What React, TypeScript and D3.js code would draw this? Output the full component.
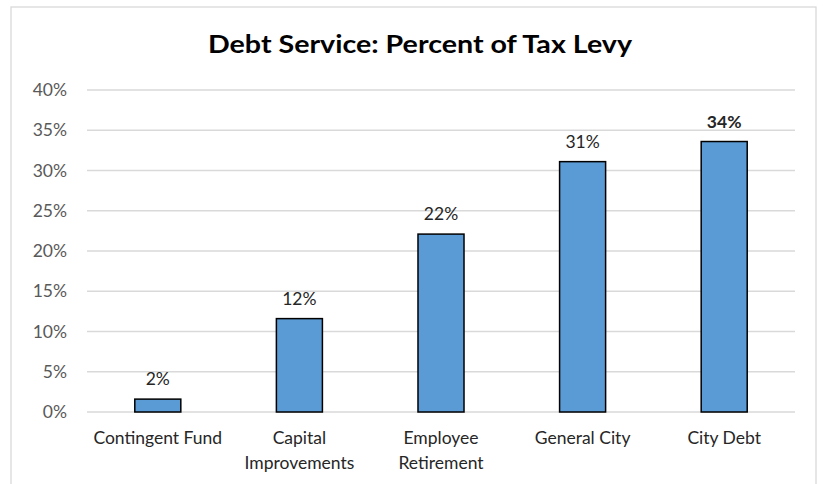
import React from "react";
import * as d3 from "d3";

const categories = ["Contingent Fund", "Capital Improvements", "Employee Retirement", "General City", "City Debt"];
const categoryLines = [["Contingent Fund"], ["Capital", "Improvements"], ["Employee", "Retirement"], ["General City"], ["City Debt"]];
const values = [1.6, 11.6, 22.1, 31.1, 33.6];
const yTicks = [0, 5, 10, 15, 20, 25, 30, 35, 40];
const boldLabelIndex = 4;

export default function App() {
  const W = 823, H = 484;
  const left = 87, right = 795, top = 90, bottom = 412;
  const x = d3.scaleBand<string>().domain(categories).range([left, right]).paddingInner(0.675).paddingOuter(0.3375);
  const y = d3.scaleLinear().domain([0, 40]).range([bottom, top]);
  const font = "Lato, Open Sans, sans-serif";
  const fs = 17.5;
  return (
    <svg width={W} height={H} style={{ position: "absolute", left: 0, top: 0, background: "#fff" }}>
      <rect x={11} y={7} width={805} height={490} fill="#fff" stroke="#d9d9d9" strokeWidth={1.3} />
      <text x={420} y={53} textAnchor="middle" fontFamily={font} fontWeight="bold" fontSize={24} fill="#000" textLength={424} lengthAdjust="spacingAndGlyphs">
        Debt Service: Percent of Tax Levy
      </text>
      {yTicks.map((t) => (
        <g key={t}>
          <line x1={left} x2={right} y1={y(t)} y2={y(t)} stroke="#d9d9d9" strokeWidth={1.3} />
          <text x={67} y={y(t) + 6} textAnchor="end" fontFamily={font} fontSize={fs} fill="#595959">{t}%</text>
        </g>
      ))}
      {categories.map((c, i) => (
        <g key={c}>
          <rect x={x(c)} y={y(values[i])} width={x.bandwidth()} height={y(0) - y(values[i])} fill="#5b9bd5" stroke="#000" strokeWidth={1.5} />
          <text x={(x(c) as number) + x.bandwidth() / 2} y={y(values[i]) - 14} textAnchor="middle" fontFamily={font} fontSize={fs} fontWeight={i === boldLabelIndex ? "bold" : "normal"} fill="#262626">
            {Math.round(values[i])}%
          </text>
          {categoryLines[i].map((ln, j) => (
            <text key={j} x={(x(c) as number) + x.bandwidth() / 2} y={444 + j * 25} textAnchor="middle" fontFamily={font} fontSize={fs} fill="#262626">{ln}</text>
          ))}
        </g>
      ))}
    </svg>
  );
}
